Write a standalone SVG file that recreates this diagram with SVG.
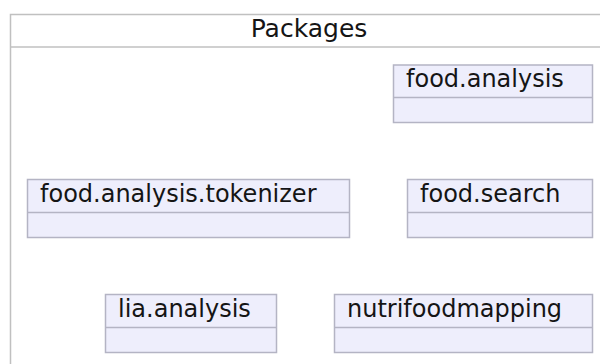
<svg xmlns="http://www.w3.org/2000/svg" width="600" height="364" viewBox="0 0 600 364">
<style>
.frame{fill:none;stroke:#c0c0c0;stroke-width:1.5}
.box{fill:#eeeefc;stroke:#b4b4c4;stroke-width:1.5}
.div{stroke:#b4b4c4;stroke-width:1.5}
text{font-family:"DejaVu Sans",sans-serif;font-size:24px;fill:#151515}
</style>
<rect width="600" height="364" fill="#ffffff"/>
<g id="packages">
<rect class="frame" x="10.5" y="14.5" width="640" height="400"/>
<line class="frame" x1="10.5" y1="47" x2="650" y2="47"/>
<text x="309" y="37" text-anchor="middle" style="font-size:25px">Packages</text>
</g>
<g id="food.analysis">
<rect class="box" x="393.5" y="65" width="199" height="57.5"/>
<line class="div" x1="393.5" y1="97.5" x2="592.5" y2="97.5"/>
<text x="406" y="87">food.analysis</text>
</g>
<g id="food.analysis.tokenizer">
<rect class="box" x="27.5" y="179.5" width="322" height="58"/>
<line class="div" x1="27.5" y1="212.5" x2="349.5" y2="212.5"/>
<text x="40" y="202">food.analysis.tokenizer</text>
</g>
<g id="food.search">
<rect class="box" x="407.5" y="179.5" width="185" height="58"/>
<line class="div" x1="407.5" y1="212.5" x2="592.5" y2="212.5"/>
<text x="420" y="202">food.search</text>
</g>
<g id="lia.analysis">
<rect class="box" x="105.5" y="294.5" width="171" height="58"/>
<line class="div" x1="105.5" y1="327.5" x2="276.5" y2="327.5"/>
<text x="118" y="317">lia.analysis</text>
</g>
<g id="nutrifoodmapping">
<rect class="box" x="334.5" y="294.5" width="258" height="58"/>
<line class="div" x1="334.5" y1="327.5" x2="592.5" y2="327.5"/>
<text x="347" y="317">nutrifoodmapping</text>
</g>
<g id="connectors"></g>
</svg>
